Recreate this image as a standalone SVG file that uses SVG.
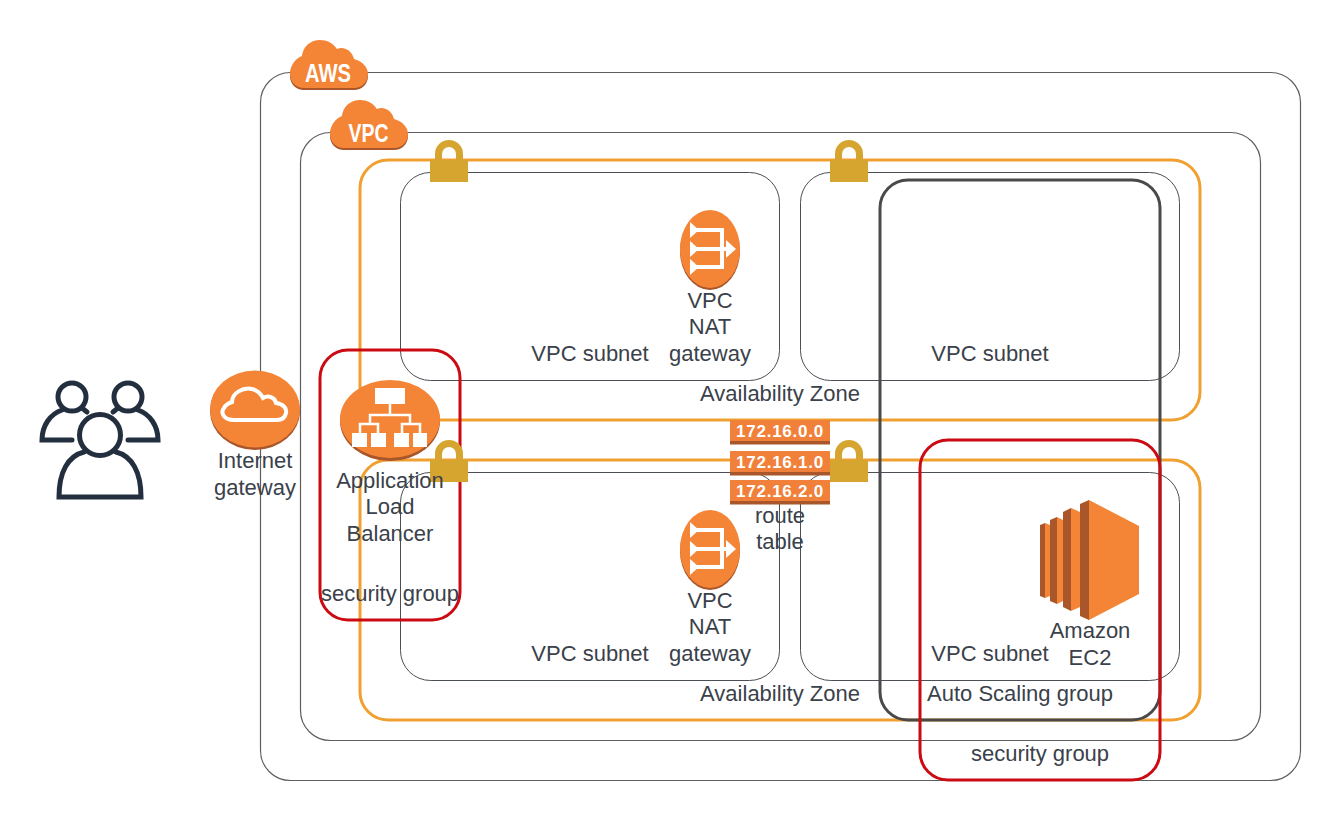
<svg xmlns="http://www.w3.org/2000/svg" width="1340" height="820" viewBox="0 0 1340 820">
<style>
.box{fill:none}
.aws{stroke:#5e5e5e;stroke-width:1.2}
.sub{stroke:#4a4f55;stroke-width:1}
.az{stroke:#f0a030;stroke-width:3}
.asg{stroke:#4a4a4a;stroke-width:3}
.sg{stroke:#cc0a12;stroke-width:3}
text{font-family:"Liberation Sans",Arial,sans-serif;font-size:22px;fill:#3a414a;text-anchor:middle}
.tag{font-family:"Liberation Sans",Arial,sans-serif;fill:#fff;font-weight:700}
.rt{font-size:17px;fill:#fff;font-weight:700;letter-spacing:.75px}
.o{fill:#f58536}
.d{fill:#a8562a}
.w{fill:#fff}
.lock{fill:#d6a52f}
</style>
<defs>
<g id="lock">
<path class="lock" fill-rule="evenodd" d="M-19 22V0H-14V-6A14 14 0 0 1 14 -6V0H19V22Z M-7 0H7V-6A7 7 0 0 0 -7 -6Z"/>
</g>
<g id="nat">
<ellipse cx="0" cy="2" rx="30" ry="39" class="d"/>
<ellipse cx="0" cy="0" rx="30" ry="39" class="o"/>
<path d="M-13 -19H12V18H-13M-13 0H18" fill="none" stroke="#fff" stroke-width="4"/>
<path class="w" d="M-20 -27L-11 -19L-20 -11Z M-20 -8L-11 0L-20 8Z M-20 10L-11 18L-20 26Z M16 -9L26 0L16 9Z"/>
</g>
<g id="route">
<rect x="-50" y="-11" width="100" height="21" fill="#f0803a"/>
<rect x="-50" y="10" width="100" height="3.500" fill="#a8562a"/>
</g>
<path id="cloud" d="M-39 4C-39 -5 -33 -12 -27 -14C-26 -24 -18 -30 -9 -30C-2 -30 4 -27 8 -21C14 -24 23 -20 25 -11C33 -9 39 -3 39 4C39 12 33 18 25 18H-25C-33 18 -39 12 -39 4Z"/>
</defs>
<g id="connectors"/>
<g id="aws-cloud-box"><rect class="box aws" x="260.500" y="72.500" width="1040" height="708" rx="30"/></g>
<g id="vpc-box"><rect class="box aws" x="300.500" y="132.500" width="960" height="608" rx="30"/></g>
<g id="az-1"><rect class="box az" x="360" y="160" width="840" height="260" rx="28"/><text x="780" y="401">Availability Zone</text></g>
<g id="az-2"><rect class="box az" x="360" y="460" width="840" height="260" rx="28"/><text x="780" y="701">Availability Zone</text></g>
<g id="subnet-1"><rect class="box sub" x="400.500" y="172.500" width="379" height="208" rx="30"/><text x="590" y="361">VPC subnet</text></g>
<g id="subnet-2"><rect class="box sub" x="800.500" y="172.500" width="379" height="208" rx="30"/><text x="990" y="361">VPC subnet</text></g>
<g id="subnet-3"><rect class="box sub" x="400.500" y="472.500" width="379" height="208" rx="30"/><text x="590" y="661">VPC subnet</text></g>
<g id="subnet-4"><rect class="box sub" x="800.500" y="472.500" width="379" height="208" rx="30"/><text x="990" y="661">VPC subnet</text></g>
<g id="asg"><rect class="box asg" x="880" y="180" width="280" height="540" rx="28"/><text x="1020" y="701">Auto Scaling group</text></g>
<g id="sg-1"><rect class="box sg" x="320" y="350" width="140" height="270" rx="28"/><text x="390" y="601">security group</text></g>
<g id="sg-2"><rect class="box sg" x="920" y="440" width="240" height="340" rx="28"/><text x="1040" y="761">security group</text></g>
<g id="aws-tag">
<use href="#cloud" x="329" y="72" class="d"/><use href="#cloud" x="329" y="70" class="o"/>
<text x="328" y="82" class="tag" style="font-size:25px" textLength="46" lengthAdjust="spacingAndGlyphs">AWS</text>
</g>
<g id="vpc-tag">
<use href="#cloud" x="369" y="132" class="d"/><use href="#cloud" x="369" y="130" class="o"/>
<text x="368.500" y="142" class="tag" style="font-size:25px" textLength="40" lengthAdjust="spacingAndGlyphs">VPC</text>
</g>
<g id="lock-1"><use href="#lock" x="449" y="160"/></g>
<g id="lock-2"><use href="#lock" x="849" y="160"/></g>
<g id="lock-3"><use href="#lock" x="449" y="460"/></g>
<g id="lock-4"><use href="#lock" x="849" y="460"/></g>
<g id="nat-1"><use href="#nat" x="710" y="249"/><text x="710" y="308">VPC</text><text x="710" y="334">NAT</text><text x="710" y="361">gateway</text></g>
<g id="nat-2"><use href="#nat" x="710" y="549"/><text x="710" y="608">VPC</text><text x="710" y="634">NAT</text><text x="710" y="661">gateway</text></g>
<g id="internet-gateway">
<ellipse cx="255" cy="411" rx="45" ry="39" class="d"/>
<ellipse cx="255" cy="409" rx="45" ry="38.500" class="o"/>
<path d="M234 420C224 420 220 413 224 408C226 404 229 403 232 402C232 393 243 387 252 389C257 390 261 394 263 398C268 395 275 397 276 403C283 404 287 408 286 413C285 418 281 420 277 420Z" fill="none" stroke="#fff" stroke-width="4"/>
<text x="255" y="468">Internet</text><text x="255" y="495">gateway</text>
</g>
<g id="alb">
<ellipse cx="390" cy="421" rx="50" ry="40" class="d"/>
<ellipse cx="390" cy="419" rx="50" ry="39" class="o"/>
<path d="M390 404V415M370 424V415H410V424M360 433V424H378V433M402 433V424H420V433" fill="none" stroke="#fff" stroke-width="2.500"/>
<path class="w" d="M375 388H405V404H375Z M352 433H367V447H352Z M371 433H386V447H371Z M394 433H409V447H394Z M413 433H427V447H413Z"/>
<text x="390" y="488">Application</text><text x="390" y="514">Load</text><text x="390" y="541">Balancer</text>
</g>
<g id="route-table">
<use href="#route" x="780" y="431"/><text x="780" y="437" class="rt">172.16.0.0</text>
<use href="#route" x="780" y="462"/><text x="780" y="468" class="rt">172.16.1.0</text>
<use href="#route" x="780" y="491"/><text x="780" y="497" class="rt">172.16.2.0</text>
<text x="780" y="523">route</text><text x="780" y="549">table</text>
</g>
<g id="ec2">
<path class="d" d="M1040 525L1045 523V598L1040 596Z M1050 520L1057 517V604L1050 601Z M1063 512L1071 508V611L1063 607Z M1080 504L1089 500V620L1080 616Z"/>
<path class="o" d="M1045 523L1050 525V596L1045 598Z M1057 517L1063 520V601L1057 604Z M1071 508L1080 512V607L1071 611Z M1089 500L1139 526V594L1089 620Z"/>
<text x="1090" y="638">Amazon</text><text x="1090" y="665">EC2</text>
</g>
<g id="users" fill="none" stroke="#232f3e" stroke-width="5" stroke-linecap="round">
<circle cx="72" cy="397" r="14"/><circle cx="128" cy="397" r="14"/><circle cx="100" cy="435" r="20.500"/>
<path d="M62 410C50 414 42 426 42 440H72M138 410C150 414 158 426 158 440H128M82 408L87 412M118 408L113 412"/>
<path d="M84 452C68 456 59 472 59 497H141C141 472 132 456 116 452"/>
</g>
</svg>
